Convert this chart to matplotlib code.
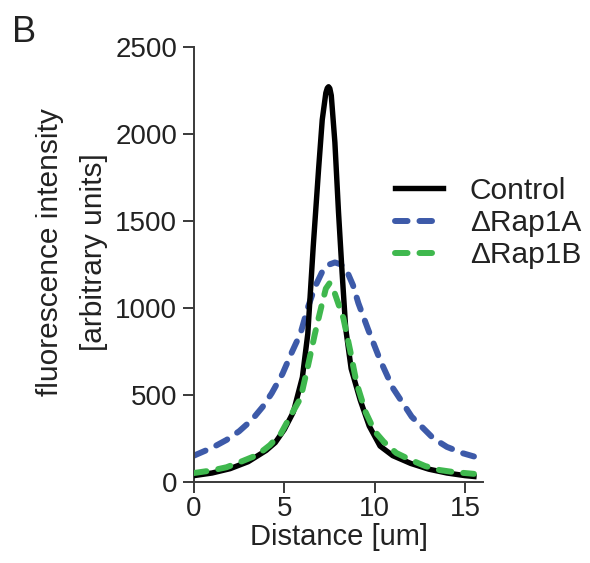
import matplotlib
matplotlib.use('Agg')
import matplotlib.pyplot as plt

# Werte (Abstand in um, Intensitaet)
ctrl_x = [0.0, 1.0, 2.0, 3.0, 4.0, 4.5, 5.0, 5.5, 6.0, 6.3, 6.6, 6.9, 7.1, 7.3, 7.38, 7.45,
          7.52, 7.6, 7.8, 8.0, 8.2, 8.4, 8.7, 9.2, 9.7, 10.3, 11.0, 12.0, 13.0, 14.0, 15.0, 15.5]
ctrl_y = [35, 50, 75, 115, 180, 225, 300, 400, 600, 850, 1350, 1800, 2080, 2235, 2262, 2270,
          2260, 2220, 1950, 1550, 1200, 880, 650, 470, 320, 205, 150, 105, 72, 50, 35, 30]

rap1a_x = [0.0, 1.0, 1.8, 2.5, 3.2, 3.8, 4.3, 4.9, 5.4, 5.9, 6.3, 6.7, 7.1, 7.4, 7.8,
           8.1, 8.4, 8.8, 9.1, 9.65, 10.3, 11.0, 12.05, 13.25, 14.0, 14.9, 15.5]
rap1a_y = [150, 195, 240, 290, 355, 430, 508, 620, 740, 853, 1000, 1120, 1207, 1245, 1260,
           1250, 1226, 1130, 1026, 872, 700, 540, 374, 249, 200, 163, 145]

rap1b_x = [0.0, 1.0, 1.8, 2.6, 3.5, 4.2, 4.8, 5.3, 5.9, 6.3, 6.7, 7.07, 7.3, 7.5, 7.7,
           8.0, 8.27, 8.64, 9.0, 9.5, 10.0, 10.5, 11.2, 12.0, 12.8, 13.6, 14.4, 15.2, 15.5]
rap1b_y = [50, 65, 83, 115, 153, 210, 275, 370, 480, 661, 853, 1015, 1110, 1140, 1111,
           1020, 940, 757, 567, 400, 290, 230, 165, 125, 90, 67, 55, 48, 45]

labels = ['Control', '\u0394Rap1A', '\u0394Rap1B']

plt.rcParams['font.family'] = ['Liberation Sans', 'DejaVu Sans']
txt = '#222222'

fig = plt.figure(figsize=(5.9, 5.63), dpi=100)
ax = fig.add_axes([194 / 590, 1 - 481.7 / 563, 289 / 590, 435 / 563])

ax.plot(ctrl_x, ctrl_y, color='black', lw=3.9, label=labels[0], zorder=3)
ax.plot(rap1a_x, rap1a_y, color='#3d5aa9', lw=4.3, dashes=(2.1, 2.0),
        dash_capstyle='round', label=labels[1], zorder=2)
ax.plot(rap1b_x, rap1b_y, color='#3fb84e', lw=4.3, dashes=(2.1, 2.0),
        dash_capstyle='round', label=labels[2], zorder=4)

ax.set_xlim(0, 16)
ax.set_ylim(0, 2500)
ax.set_xticks([0, 5, 10, 15])
ax.set_yticks([0, 500, 1000, 1500, 2000, 2500])

for s in ['top', 'right']:
    ax.spines[s].set_visible(False)
for s in ['left', 'bottom']:
    ax.spines[s].set_color('#3a3a3a')
    ax.spines[s].set_linewidth(1.4)
ax.tick_params(direction='out', length=8, width=1.4, color='#3a3a3a',
               labelsize=20, labelcolor=txt)
ax.tick_params(axis='x', pad=2)
ax.tick_params(axis='y', pad=4)

ax.set_xlabel('Distance [um]', fontsize=21, labelpad=1, color=txt)

fig.text(50 / 590, 1 - 252 / 563, 'fluorescence intensity', rotation=90,
         ha='center', va='center', fontsize=21.5, color=txt)
fig.text(94 / 590, 1 - 252 / 563, '[arbitrary units]', rotation=90,
         ha='center', va='center', fontsize=21.5, color=txt)
fig.text(12 / 590, 1 - 33 / 563, 'B', ha='left', va='center', fontsize=26, color=txt)

leg = ax.legend(loc='center left', bbox_to_anchor=(395 / 590, 1 - 223 / 563),
                bbox_transform=fig.transFigure, frameon=False, fontsize=21.5,
                handlelength=1.6, handletextpad=0.9, labelspacing=0.15,
                borderaxespad=0, borderpad=0)
for t in leg.get_texts():
    t.set_color(txt)

fig.savefig('out.png', dpi=100)
